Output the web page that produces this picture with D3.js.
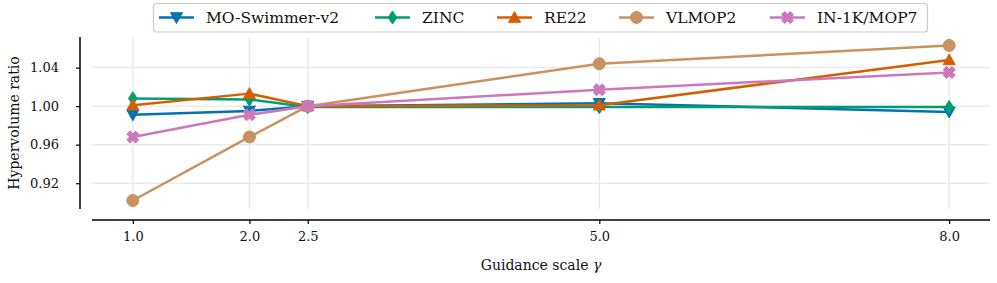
<!DOCTYPE html>
<html>
<head>
<meta charset="utf-8">
<script src="https://cdn.jsdelivr.net/npm/d3@7"></script>
<style>
body { margin: 0; background: #fff; }
svg { display: block; }
svg text { font-family: "DejaVu Serif", serif !important; }
</style>
</head>
<body>
<svg id="chart" width="997" height="283"></svg>
<script>
const gammas = [1.0, 2.0, 2.5, 5.0, 8.0];
const xTicks = [1.0, 2.0, 2.5, 5.0, 8.0];
const yTicks = [0.92, 0.96, 1.00, 1.04];
const seriesNames = ["MO-Swimmer-v2", "ZINC", "RE22", "VLMOP2", "IN-1K/MOP7"];
const moSwimmer = [0.991, 0.995, 1.000, 1.003, 0.994];
const zinc      = [1.008, 1.007, 0.999, 0.999, 0.999];
const re22      = [1.001, 1.013, 1.000, 1.001, 1.048];
const vlmop2    = [0.902, 0.968, 1.000, 1.044, 1.063];
const in1k      = [0.968, 0.991, 1.000, 1.017, 1.035];
const colors = ["#0173b2", "#029e73", "#d55e00", "#ca9161", "#cc78bc"];
const markers = ["triDown", "thinDiamond", "triUp", "circle", "xFilled"];

(function () {
const seriesValues = [moSwimmer, zinc, re22, vlmop2, in1k];
const series = seriesNames.map((name, i) => ({
  name, color: colors[i], marker: markers[i],
  points: gammas.map((g, j) => ({ x: g, y: seriesValues[i][j] }))
}));

const svg = d3.select("#chart");
const pL = 92, pR = 990, pT = 37, pB = 209;
const x = d3.scaleLinear().domain([0.65, 8.35]).range([pL, pR]);
const y = d3.scaleLinear().domain([0.8932, 1.0718]).range([pB, pT]);

// grid
const grid = svg.append("g");
grid.selectAll(".hg").data(yTicks).enter().append("line")
  .attr("x1", pL).attr("x2", pR)
  .attr("y1", d => y(d)).attr("y2", d => y(d))
  .attr("stroke", "#ebebeb").attr("stroke-width", 1.5);
grid.selectAll(".vg").data(xTicks).enter().append("line")
  .attr("x1", d => x(d)).attr("x2", d => x(d))
  .attr("y1", pT).attr("y2", pB)
  .attr("stroke", "#ebebeb").attr("stroke-width", 1.5);

// x axis (offset)
const xAxis = d3.axisBottom(x).tickValues(xTicks).tickFormat(d3.format(".1f"))
  .tickSizeInner(4).tickSizeOuter(0).tickPadding(8);
const gx = svg.append("g").attr("transform", `translate(0,220)`).call(xAxis)
  .attr("font-family", "DejaVu Serif");
gx.select(".domain").attr("stroke", "#000").attr("stroke-width", 1.5)
  .attr("d", `M${pL},0H${pR}`);
gx.selectAll(".tick line").attr("stroke", "#000").attr("stroke-width", 1.2);
gx.selectAll(".tick text").attr("font-family", "DejaVu Serif").attr("font-size", 13).attr("fill", "#111");

// y axis (offset)
const yAxis = d3.axisLeft(y).tickValues(yTicks).tickFormat(d3.format(".2f"))
  .tickSizeInner(4).tickSizeOuter(0).tickPadding(17);
const gy = svg.append("g").attr("transform", `translate(80,0)`).call(yAxis)
  .attr("font-family", "DejaVu Serif");
gy.select(".domain").attr("stroke", "#000").attr("stroke-width", 1.5)
  .attr("d", `M0,${pT}V${pB}`);
gy.selectAll(".tick line").attr("stroke", "#000").attr("stroke-width", 1.2);
gy.selectAll(".tick text").attr("font-family", "DejaVu Serif").attr("font-size", 13).attr("fill", "#111");

// axis labels
const xl = svg.append("text").attr("x", (pL + pR) / 2).attr("y", 270)
  .attr("font-family", "DejaVu Serif")
  .attr("text-anchor", "middle").attr("font-size", 14).attr("fill", "#111");
xl.append("tspan").text("Guidance scale ");
xl.append("tspan").attr("font-style", "italic").text("γ");
svg.append("text").attr("transform", `translate(19,${(pT + pB) / 2}) rotate(-90)`)
  .attr("font-family", "DejaVu Serif")
  .attr("text-anchor", "middle").attr("font-size", 14).attr("fill", "#111")
  .text("Hypervolume ratio");

function markerPath(type, s) {
  switch (type) {
    case "circle": return d3.symbol(d3.symbolCircle, Math.PI * (s / 2) * (s / 2))();
    case "triUp": {
      const h = s * 0.5;
      return `M0,${-h}L${h},${h * 0.8}L${-h},${h * 0.8}Z`;
    }
    case "triDown": {
      const h = s * 0.5;
      return `M0,${h}L${h},${-h * 0.8}L${-h},${-h * 0.8}Z`;
    }
    case "thinDiamond": {
      const h = s * 0.55, w = s * 0.36;
      return `M0,${-h}L${w},0L0,${h}L${-w},0Z`;
    }
    case "xFilled": {
      const a = s * 0.5, t = s * 0.27;
      const pts = [[-a + t, -a], [0, -t], [a - t, -a], [a, -a + t], [t, 0], [a, a - t], [a - t, a], [0, t], [-a + t, a], [-a, a - t], [-t, 0], [-a, -a + t]];
      return "M" + pts.map(p => p.join(",")).join("L") + "Z";
    }
  }
}

const line = d3.line().x(d => x(d.x)).y(d => y(d.y));
const plot = svg.append("g");
series.forEach(s => {
  const g = plot.append("g");
  g.append("path").datum(s.points).attr("d", line)
    .attr("fill", "none").attr("stroke", s.color).attr("stroke-width", 2.5)
    .attr("stroke-linejoin", "round");
  g.selectAll("path.m").data(s.points).enter().append("path").attr("class", "m")
    .attr("transform", d => `translate(${x(d.x)},${y(d.y)})`)
    .attr("d", markerPath(s.marker, 12))
    .attr("fill", s.color).attr("stroke", s.color).attr("stroke-width", 1);
});

// legend
const lg = svg.append("g");
lg.append("rect").attr("x", 153.5).attr("y", 3.5).attr("width", 774).attr("height", 28.5)
  .attr("rx", 3).attr("fill", "#fff").attr("fill-opacity", 0.8)
  .attr("stroke", "#cccccc").attr("stroke-width", 1.2);
const handleX = [159, 375, 497, 619, 770];
series.forEach((s, i) => {
  const hx = handleX[i];
  const e = lg.append("g");
  e.append("line").attr("x1", hx).attr("x2", hx + 35).attr("y1", 17.5).attr("y2", 17.5)
    .attr("stroke", s.color).attr("stroke-width", 2.5);
  e.append("path").attr("transform", `translate(${hx + 17.5},17.5)`)
    .attr("d", markerPath(s.marker, 12)).attr("fill", s.color).attr("stroke", s.color).attr("stroke-width", 1);
  e.append("text").attr("x", hx + 47).attr("y", 17.5).attr("dy", "0.35em")
    .attr("font-family", "DejaVu Serif")
    .attr("font-size", 15.5).attr("fill", "#111").text(s.name);
});
})();
</script>
</body>
</html>
